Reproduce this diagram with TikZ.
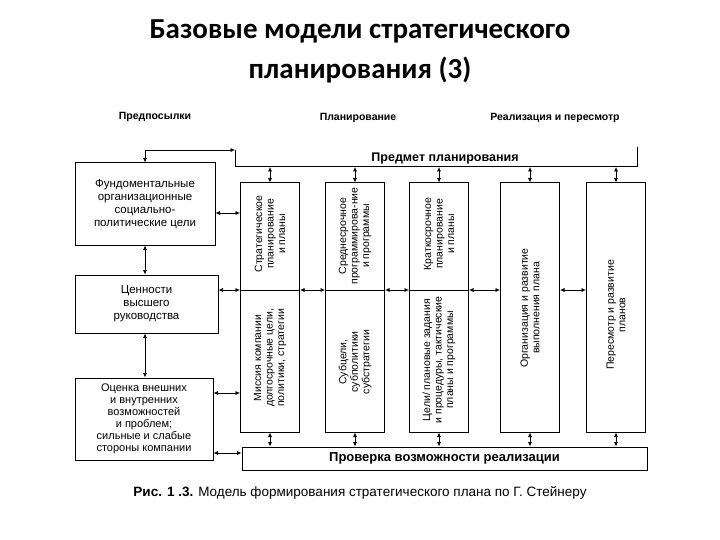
\documentclass[tikz,border=0pt]{standalone}
\usepackage{fontspec}
\setmainfont{Liberation Sans}
\newfontfamily\titlefont{Carlito}
\usetikzlibrary{arrows.meta}
\begin{document}
\begin{tikzpicture}[x=1pt,y=-1pt,
  box/.style={draw,line width=1pt,inner sep=0pt},
  txt/.style={font=\fontsize{11.5}{12.8}\selectfont,align=center},
  vt/.style={font=\fontsize{10.5}{11.5}\selectfont,align=center,rotate=90},
  hdr/.style={font=\bfseries\fontsize{10.5}{12}\selectfont},
  ar/.style={{Latex[length=4.5pt,width=4pt]}-{Latex[length=4.5pt,width=4pt]},line width=0.7pt}]
\useasboundingbox (0,0) rectangle (720,540);
\node[font=\titlefont\bfseries\fontsize{29}{40}\selectfont,align=center] (title) at (360,51) {Базовые модели стратегического\\планирования (3)};
\node[hdr] (h1) at (155,117) {Предпосылки};
\node[hdr] (h2) at (358,118) {Планирование};
\node[hdr] (h3) at (555,118) {Реализация и пересмотр};
% top bracket
\coordinate (tl) at (235,150);
\coordinate (tr) at (637,147);
\draw[line width=1pt] (tl) -- (235,167) -- (637,167) -- (tr);
\node[hdr,font=\bfseries\fontsize{12.5}{13}\selectfont] (pp) at (445,158) {Предмет планирования};
% left boxes
\node[box,minimum width=140,minimum height=82,txt] (b1) at (145,204) {Фундоментальные\\организационные\\социально-\\политические цели};
\node[box,minimum width=143,minimum height=58,txt] (b2) at (146.5,304) {Ценности\\высшего\\руководства};
\node[box,minimum width=138,minimum height=82,txt,font=\fontsize{11}{12}\selectfont] (b3) at (144,419) {Оценка внешних\\и внутренних\\возможностей\\и проблем;\\сильные и слабые\\стороны компании};
% columns
\foreach \n/\x in {c1/270,c2/355,c3/439,c4/530,c5/616}{
  \node[box,minimum width=59,minimum height=249] (\n) at (\x,307.5) {};
}
\foreach \n in {c1,c2,c3}{\draw[line width=1pt] (\n.west|-0,290) -- (\n.east|-0,290);}
\node[vt] (t1) at (270,234) {Стратегическое\\планирование\\и планы};
\node[vt] (t2) at (355,236) {Среднесрочное\\программирова-ние\\и программы};
\node[vt] (t3) at (439,234) {Краткосрочное\\планирование\\и планы};
\node[vt] (u1) at (270,358) {Миссия компании\\долгосрочные цели,\\политики, стратегии};
\node[vt] (u2) at (355,362) {Субцели,\\субполитики\\субстратегии};
\node[vt] (u3) at (439,360) {Цели/ плановые задания\\и процедуры, тактические\\планы и программы};
\node[vt] (t4) at (530,308) {Организация и развитие\\выполнения плана};
\node[vt] (t5) at (616,315) {Пересмотр и развитие\\планов};
% bottom bar
\node[box,minimum width=405,minimum height=23,font=\bfseries\fontsize{13}{14}\selectfont] (bb) at (444.5,458.5) {Проверка возможности реализации};
% arrows
\draw[ar] (b1.north) -- (b1.north|-tl) -- (tl);
\draw[ar] (b1.south) -- (b2.north-|b1.south);
\draw[ar] (b2.south-|b1.south) -- (b3.north-|b1.south);
\draw[ar] (b1.east|-0,213) -- (c1.west|-0,213);
\draw[ar] (b2.east|-0,290) -- (c1.west|-0,290);
\draw[ar] (b3.east|-0,393) -- (c1.west|-0,393);
\draw[ar] (b3.east|-0,453) -- (bb.west|-0,453);
\draw[ar] (c1.east|-0,290) -- (c2.west|-0,290);
\draw[ar] (c2.east|-0,290) -- (c3.west|-0,290);
\draw[ar] (c3.east|-0,290) -- (c4.west|-0,290);
\draw[ar] (c4.east|-0,290) -- (c5.west|-0,290);
\foreach \n in {c1,c2,c3,c4,c5}{
  \draw[ar] (\n.north|-0,167) -- (\n.north);
  \draw[ar] (\n.south) -- (\n.south|-bb.north);
}
\node[font=\fontsize{13.5}{15}\selectfont] (cap) at (360,493) {\textbf{Рис. 1 .3.} Модель формирования стратегического плана по Г. Стейнеру};
\end{tikzpicture}
\end{document}
